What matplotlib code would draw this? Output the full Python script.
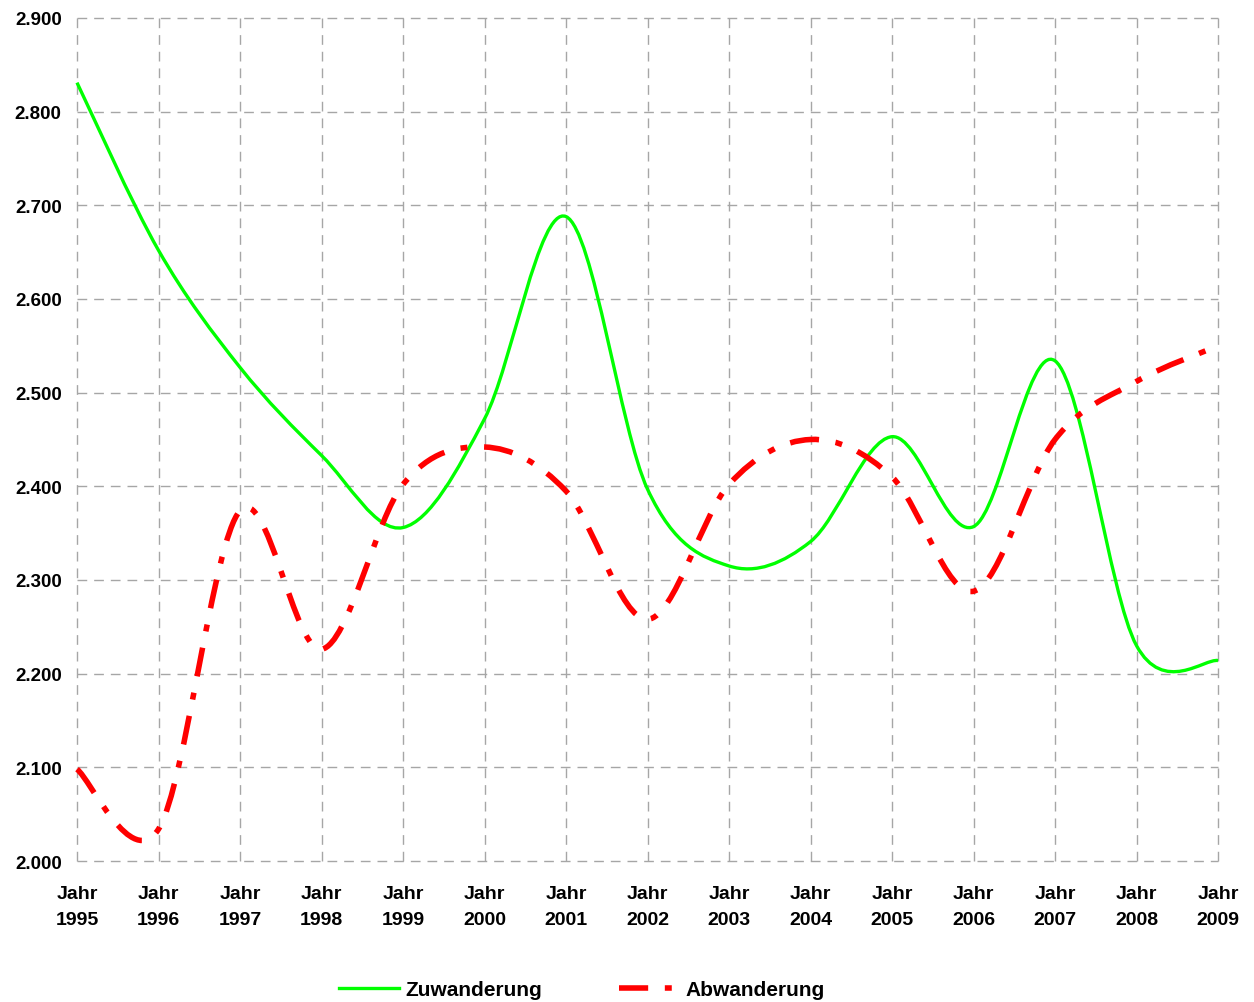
import matplotlib
matplotlib.use("Agg")
import matplotlib.pyplot as plt
from matplotlib.path import Path
from matplotlib.patches import PathPatch
from matplotlib.lines import Line2D
from matplotlib.ticker import FuncFormatter
import numpy as np

years = [1995, 1996, 1997, 1998, 1999, 2000, 2001, 2002, 2003, 2004, 2005, 2006, 2007, 2008, 2009]
tick_labels = ["Jahr\n%d" % y for y in years]
zuwanderung = [2831, 2652, 2527, 2433, 2356, 2472, 2688, 2397, 2315, 2341, 2453, 2357, 2534, 2230, 2214]
abwanderung = [2098, 2034, 2374, 2226, 2402, 2442, 2395, 2258, 2402, 2450, 2410, 2288, 2450, 2512, 2550]

plt.rcParams['lines.scale_dashes'] = False
FONT = ['Liberation Sans', 'DejaVu Sans']

fig = plt.figure(figsize=(12.54, 10.03), dpi=100)
ax = fig.add_axes([77/1254, 1-862/1003, (1218-77)/1254, (862-19)/1003])


def smooth_path(xs, ys):
    # Excel-style smoothed line: cubic Bezier segments through the data points
    xs = np.asarray(xs, float)
    ys = np.asarray(ys, float)
    n = len(xs)
    verts = [(xs[0], ys[0])]
    codes = [Path.MOVETO]
    for i in range(n - 1):
        i0 = max(i - 1, 0)
        i3 = min(i + 2, n - 1)
        c1 = (xs[i] + (xs[i+1] - xs[i0]) / 6, ys[i] + (ys[i+1] - ys[i0]) / 6)
        c2 = (xs[i+1] - (xs[i3] - xs[i]) / 6, ys[i+1] - (ys[i3] - ys[i]) / 6)
        verts += [c1, c2, (xs[i+1], ys[i+1])]
        codes += [Path.CURVE4, Path.CURVE4, Path.CURVE4]
    return Path(verts, codes)

green_style = dict(color='#00ff00', linewidth=2.4, linestyle='-')
red_dash = (0, (21, 12, 5, 12))
red_style = dict(color='#ff0000', linewidth=4.0, linestyle=red_dash)

ax.add_patch(PathPatch(smooth_path(years, zuwanderung), facecolor='none',
                       edgecolor=green_style['color'], linewidth=green_style['linewidth'],
                       linestyle='-', capstyle='butt', joinstyle='round', clip_on=False, zorder=3))
ax.add_patch(PathPatch(smooth_path(years, abwanderung), facecolor='none',
                       edgecolor=red_style['color'], linewidth=red_style['linewidth'],
                       linestyle=red_dash, capstyle='butt', joinstyle='round', clip_on=False, zorder=4))

ax.set_xlim(1995, 2009)
ax.set_ylim(2000, 2900)
ax.set_xticks(years)
ax.set_xticklabels(tick_labels)
ax.set_yticks(np.arange(2000, 2901, 100))
ax.yaxis.set_major_formatter(FuncFormatter(lambda v, p: ("%d.%03d" % (int(v) // 1000, int(v) % 1000))))

for s in ax.spines.values():
    s.set_visible(False)
ax.grid(True, color='#a6a6a6', linestyle=(0, (7, 5)), linewidth=1.0)
for gl in ax.get_xgridlines() + ax.get_ygridlines():
    gl.set_clip_on(False)
ax.set_axisbelow(True)
ax.tick_params(axis='both', length=0)
ax.tick_params(axis='y', pad=11)
ax.tick_params(axis='x', pad=17)
for lab in ax.get_yticklabels():
    lab.set_fontfamily(FONT)
    lab.set_fontweight('bold')
    lab.set_fontsize(13.5)
for lab in ax.get_xticklabels():
    lab.set_fontfamily(FONT)
    lab.set_fontweight('bold')
    lab.set_fontsize(14)
    lab.set_linespacing(1.75)

handles = [Line2D([], [], **green_style), Line2D([], [], **red_style)]
leg = fig.legend(handles, ['Zuwanderung', 'Abwanderung'], loc='center',
                 bbox_to_anchor=(0.464, 0.012), ncol=2, frameon=False,
                 handlelength=2.9, handletextpad=0.3, columnspacing=3.7,
                 prop=dict(family=FONT, weight='bold', size=15))

fig.savefig('out.png', dpi=100)
